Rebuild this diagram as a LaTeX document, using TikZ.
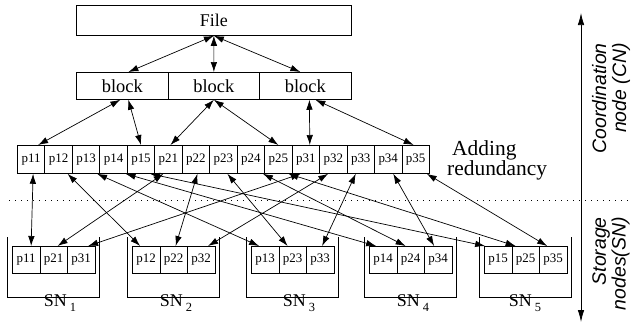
\documentclass[tikz,border=0pt]{standalone}
\usepackage{fontspec}
\setmainfont{Liberation Serif}
\newfontfamily\labelsans{Liberation Sans}
\usetikzlibrary{arrows.meta,calc}

\tikzset{
  box/.style={draw, line width=0.75bp, inner sep=0pt, anchor=north west},
  bigbox/.style={box, minimum height=30bp, font=\fontsize{18}{18}\selectfont},
  blockbox/.style={box, minimum height=27bp, font=\fontsize{18.5}{18.5}\selectfont},
  cell/.style={box, minimum width=27.47bp, minimum height=28bp, font=\fontsize{13}{13}\selectfont},
  scell/.style={box, minimum width=27.5bp, minimum height=27bp, font=\fontsize{13}{13}\selectfont},
  tip/.tip={Latex[length=10bp,width=6.5bp]},
  link/.style={line width=0.7bp, tip-tip},
  bin/.style={line width=0.75bp},
  snlabel/.style={anchor=base, font=\fontsize{18}{18}\selectfont},
  sidelabel/.style={rotate=90, anchor=east, align=right, inner sep=0pt,
                    font=\labelsans\itshape\fontsize{19.5}{20}\selectfont},
  divider/.style={line width=0.75bp, dash pattern=on 1bp off 5bp},
  axis/.style={line width=0.75bp, {Latex[length=12bp,width=6.5bp]}-{Latex[length=12bp,width=6.5bp]}},
}

\begin{document}
\begin{tikzpicture}[x=1bp, y=-1bp]
  \useasboundingbox (0,0) rectangle (633,327);

  % file and its blocks
  \node[bigbox, minimum width=275bp] (file) at (76,5) {File};
  \node[blockbox, minimum width=92bp] (b1) at (76,72) {block};
  \node[blockbox, minimum width=91bp] (b2) at (168,72) {block};
  \node[blockbox, minimum width=92bp] (b3) at (259,72) {block};

  % fragments on the coordination node
  \foreach \i in {1,2,3}{
    \foreach \j in {1,...,5}{
      \pgfmathtruncatemacro{\k}{5*(\i-1)+\j-1}
      \node[cell] (t\i\j) at ({17+27.47*\k},145) {p\i\j};
    }
  }

  \node[anchor=north west, align=left, inner sep=0pt,
        font=\fontsize{21.5}{19}\selectfont] (redund) at (447,140)
    {\hspace*{5bp}Adding\\redundancy};

  % storage nodes: open bins holding one fragment of each block
  \foreach \j/\L/\dx in {1/7/7, 2/127/3, 3/246/7, 4/364/3, 5/479/0}{
    \draw[bin] (\L,237) -- (\L,297) -- (\L+92,297) -- (\L+92,237);
    \foreach \i in {1,2,3}{
      \node[scell] (s\i\j) at ({\L+5+27.5*(\i-1)},246) {p\i\j};
    }
    \node[snlabel] (sn\j) at (\L+46+\dx,306)
      {SN\,\raisebox{-5.5bp}{\fontsize{12.5}{12.5}\selectfont\j}};
  }

  % file <-> blocks
  \draw[link] (file.south) -- ([xshift=6bp]b1.north);
  \draw[link] (file.south) -- (b2.north);
  \draw[link] (file.south) -- ([xshift=-5bp]b3.north);

  % blocks <-> fragments
  \draw[link] ([xshift=-2bp]b1.south) -- ([xshift=7bp]t11.north);
  \draw[link] ([xshift=6bp]b1.south) -- (t15.north);
  \draw[link] (b2.south) -- ([xshift=2bp]t21.north);
  \draw[link] (b2.south) -- (t25.north);
  \draw[link] ([xshift=4bp]b3.south) -- ([xshift=4bp]t31.north);
  \draw[link] ([xshift=10bp]b3.south) -- ([xshift=-2bp]t35.north);

  % fragments <-> storage nodes
  \foreach \i/\j/\a/\b in {1/1/2/5, 1/2/9/-6, 1/3/11/-6, 1/4/12/-7, 1/5/9/-13,
                           2/1/-5/4, 2/2/1.5/2, 2/3/4/-5, 2/4/12/-5, 2/5/10/-10,
                           3/1/-5/7, 3/2/-5/7, 3/3/-5/2, 3/4/5/-4, 3/5/11/-6}{
    \draw[link] ([xshift=\a bp]t\i\j.south) -- ([xshift=\b bp]s\i\j.north);
  }

  % boundary between the two tiers
  \coordinate (dl) at (9,200);
  \coordinate (dr) at (630,200);
  \draw[divider] (dl) -- (dr);

  % tier axis
  \coordinate (axtop) at (581,13);
  \coordinate (axbot) at (581,322);
  \draw[axis] (axtop) -- (axbot);

  \node[sidelabel] (cn) at (611,43) {Coordination\\node (CN)};
  \node[sidelabel] (snl) at (611,217) {Storage\\nodes(SN)};
\end{tikzpicture}
\end{document}
